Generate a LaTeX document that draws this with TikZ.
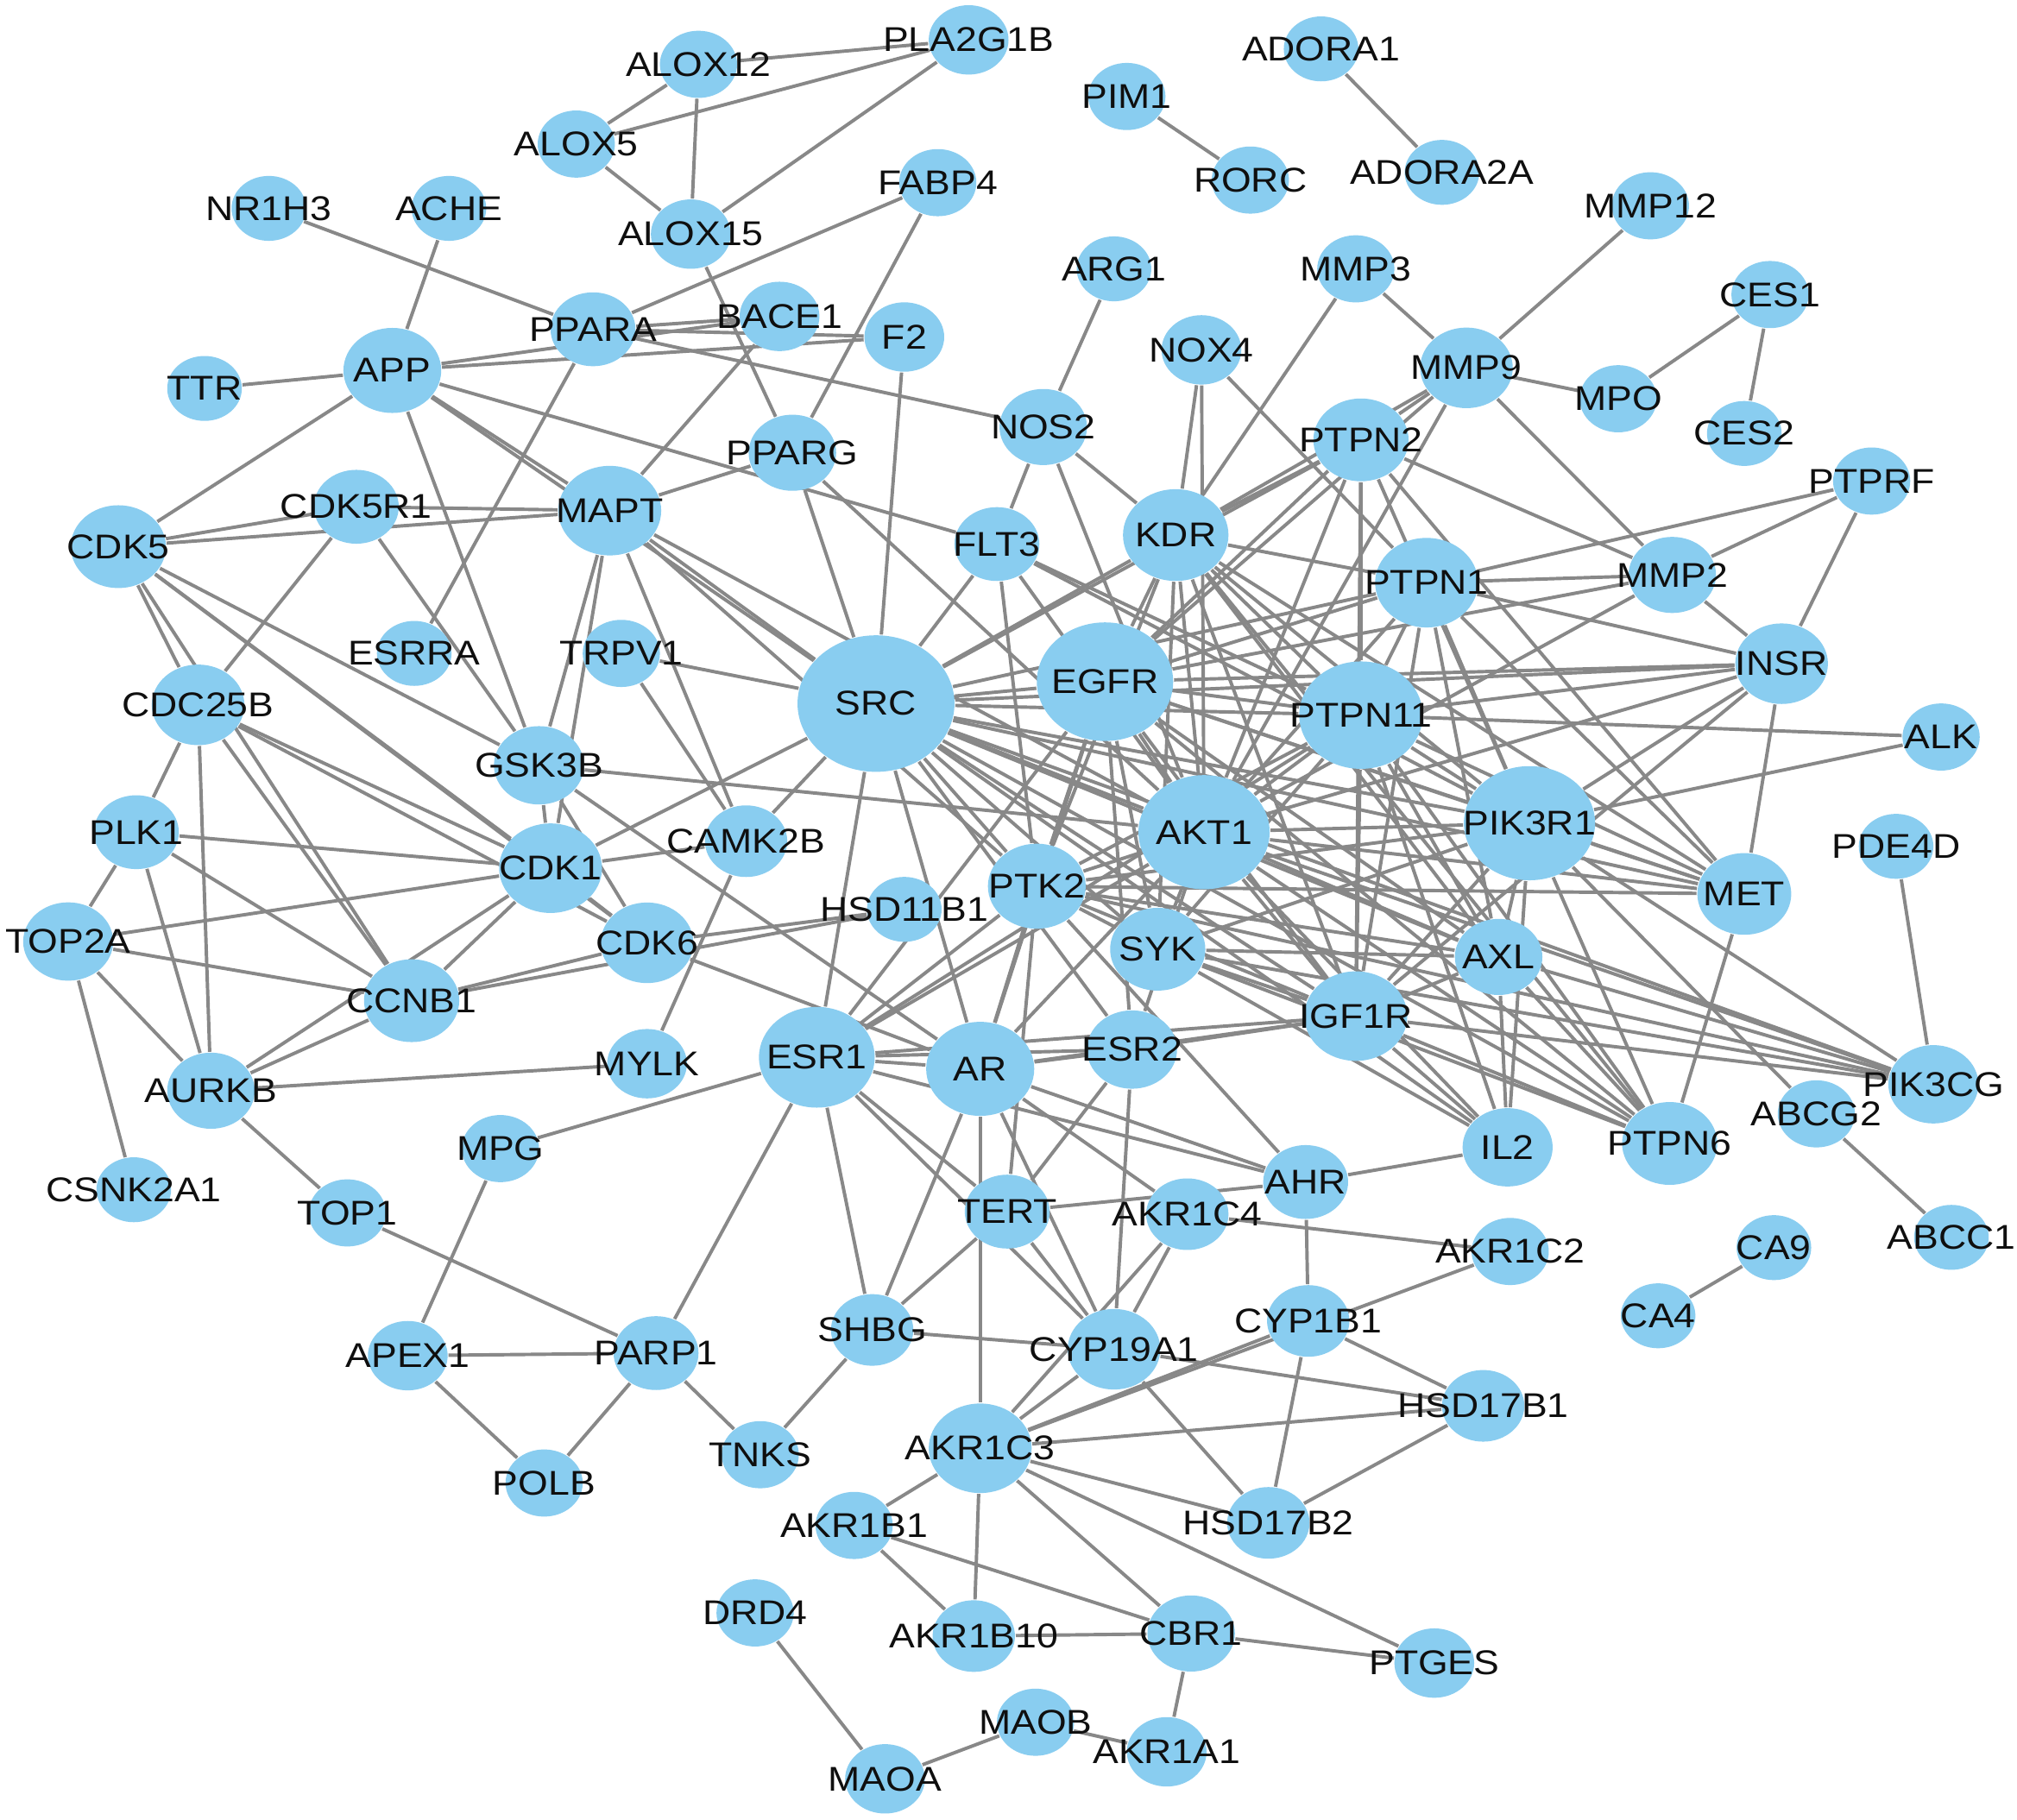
\documentclass[tikz,border=0pt]{standalone}
\usepackage{graphicx}
\usepackage{fontspec}
\setmainfont{Liberation Sans}
\usetikzlibrary{shapes.geometric}
\definecolor{nodeblue}{RGB}{137,205,240}
\definecolor{edgegray}{RGB}{136,136,136}
\definecolor{txt}{RGB}{15,15,15}
\pgfdeclarelayer{bg}
\pgfsetlayers{bg,main}
\tikzset{
  gene/.style={ellipse, fill=nodeblue, draw=none, inner sep=0pt},
  lbl/.style={font=\fontsize{7.6pt}{9pt}\selectfont, text=txt, inner sep=0pt},
  edge/.style={draw=edgegray, line width=0.75pt}
}
\newcommand\gn[4]{\node[gene, minimum width=#4*0.1mm, minimum height=#4*0.087mm,
  label={[lbl]center:\scalebox{1.12}[1]{#1}}] (#1) at (#2,#3) {};}
\begin{document}
\begin{tikzpicture}[x=0.1mm, y=-0.1mm]
\useasboundingbox (0,0) rectangle (1568,1415);
\begin{pgfonlayer}{bg}
\fill[white] (0,0) rectangle (1568,1415);
\end{pgfonlayer}
% nodes
\gn{ALOX12}{543}{50}{60}
\gn{PLA2G1B}{753}{31}{62}
\gn{ALOX5}{448}{112}{60}
\gn{ALOX15}{537}{182}{62}
\gn{PIM1}{876}{75}{60}
\gn{RORC}{972}{140}{60}
\gn{ADORA1}{1027}{38}{58}
\gn{ADORA2A}{1121}{134}{58}
\gn{MMP12}{1283}{160}{60}
\gn{NR1H3}{209}{162}{58}
\gn{ACHE}{349}{162}{58}
\gn{FABP4}{729}{142}{60}
\gn{ARG1}{866}{209}{58}
\gn{MMP3}{1054}{209}{60}
\gn{CES1}{1376}{229}{60}
\gn{CES2}{1356}{337}{58}
\gn{MPO}{1258}{310}{60}
\gn{MMP9}{1140}{286}{72}
\gn{NOX4}{934}{272}{62}
\gn{PPARA}{461}{256}{66}
\gn{BACE1}{606}{246}{62}
\gn{F2}{703}{262}{62}
\gn{APP}{305}{288}{76}
\gn{TTR}{159}{302}{58}
\gn{NOS2}{811}{332}{68}
\gn{PPARG}{616}{352}{68}
\gn{PTPN2}{1058}{342}{74}
\gn{PTPRF}{1455}{374}{60}
\gn{CDK5R1}{277}{394}{66}
\gn{MAPT}{474}{397}{80}
\gn{CDK5}{92}{425}{74}
\gn{FLT3}{775}{423}{66}
\gn{KDR}{914}{416}{82}
\gn{PTPN1}{1109}{453}{80}
\gn{MMP2}{1300}{447}{68}
\gn{ESRRA}{322}{508}{58}
\gn{TRPV1}{483}{508}{60}
\gn{SRC}{681}{547}{122}
\gn{EGFR}{859}{530}{106}
\gn{PTPN11}{1058}{556}{96}
\gn{INSR}{1385}{516}{72}
\gn{ALK}{1509}{573}{60}
\gn{CDC25B}{154}{548}{72}
\gn{GSK3B}{419}{595}{70}
\gn{AKT1}{936}{647}{102}
\gn{PIK3R1}{1189}{640}{102}
\gn{PLK1}{106}{647}{66}
\gn{PDE4D}{1474}{658}{58}
\gn{CAMK2B}{580}{654}{64}
\gn{CDK1}{428}{675}{80}
\gn{PTK2}{806}{689}{76}
\gn{MET}{1356}{695}{73}
\gn{HSD11B1}{703}{707}{58}
\gn{TOP2A}{53}{732}{70}
\gn{CDK6}{503}{733}{72}
\gn{SYK}{900}{738}{74}
\gn{AXL}{1165}{744}{68}
\gn{CCNB1}{320}{778}{74}
\gn{IGF1R}{1054}{790}{80}
\gn{MYLK}{503}{827}{62}
\gn{ESR1}{635}{822}{90}
\gn{AR}{762}{831}{84}
\gn{ESR2}{880}{816}{70}
\gn{PIK3CG}{1503}{843}{70}
\gn{AURKB}{164}{848}{68}
\gn{ABCG2}{1412}{866}{60}
\gn{IL2}{1172}{892}{70}
\gn{PTPN6}{1298}{889}{74}
\gn{MPG}{389}{893}{60}
\gn{CSNK2A1}{104}{925}{58}
\gn{TOP1}{270}{943}{60}
\gn{TERT}{783}{942}{66}
\gn{AKR1C4}{923}{944}{64}
\gn{AHR}{1015}{919}{66}
\gn{ABCC1}{1517}{962}{58}
\gn{CA9}{1379}{970}{58}
\gn{AKR1C2}{1174}{973}{60}
\gn{CA4}{1289}{1023}{58}
\gn{CYP1B1}{1017}{1027}{64}
\gn{APEX1}{317}{1054}{62}
\gn{PARP1}{510}{1052}{66}
\gn{SHBG}{678}{1034}{64}
\gn{CYP19A1}{866}{1049}{72}
\gn{HSD17B1}{1153}{1093}{64}
\gn{TNKS}{591}{1131}{60}
\gn{AKR1C3}{762}{1126}{80}
\gn{POLB}{423}{1153}{60}
\gn{HSD17B2}{986}{1184}{64}
\gn{AKR1B1}{664}{1186}{60}
\gn{DRD4}{587}{1254}{60}
\gn{AKR1B10}{757}{1272}{64}
\gn{CBR1}{926}{1270}{68}
\gn{PTGES}{1115}{1293}{62}
\gn{MAOB}{805}{1339}{60}
\gn{AKR1A1}{907}{1362}{62}
\gn{MAOA}{688}{1383}{62}
% edges
\begin{pgfonlayer}{bg}
\foreach \a/\b in {ALOX12/PLA2G1B, ALOX12/ALOX5, ALOX12/ALOX15, ALOX5/PLA2G1B, ALOX5/ALOX15,
 PLA2G1B/ALOX15, ALOX15/PPARG, FABP4/PPARA, FABP4/PPARG, PIM1/RORC, ADORA1/ADORA2A,
 MMP12/MMP9, MMP3/MMP9, MMP3/KDR, MMP9/MPO, MPO/CES1, CES1/CES2, NR1H3/PPARA, ACHE/APP,
 TTR/APP, APP/BACE1, APP/F2, PPARA/BACE1, PPARA/F2, PPARA/NOS2, PPARA/ESRRA, ARG1/NOS2,
 NOS2/KDR, NOS2/FLT3, NOS2/AKT1, NOX4/KDR, NOX4/AKT1, NOX4/PTPN1, BACE1/MAPT, F2/SRC,
 MAPT/PPARG, PPARG/SRC, PPARG/AKT1,
 APP/MAPT, APP/CDK5, APP/GSK3B, APP/SRC, APP/FLT3,
 CDK5/CDK5R1, CDK5/MAPT, CDK5R1/MAPT, CDK5R1/CDC25B, CDK5R1/GSK3B, CDK5/CDC25B, CDK5/CCNB1,
 CDK5/GSK3B, CDK5/CDK1, CDK5/CDK6,
 CDC25B/PLK1, CDC25B/AURKB, CDC25B/CCNB1, CDC25B/CDK1, CDC25B/CDK6,
 PLK1/TOP2A, PLK1/AURKB, PLK1/CDK1, PLK1/CCNB1,
 TOP2A/CDK1, TOP2A/CCNB1, TOP2A/AURKB, TOP2A/CSNK2A1,
 AURKB/CCNB1, AURKB/CDK1, AURKB/MYLK, AURKB/TOP1,
 CCNB1/CDK1, CCNB1/CDK6, CCNB1/HSD11B1,
 CDK1/GSK3B, CDK1/CDK6, CDK1/SRC, CDK1/CAMK2B, CDK1/MAPT,
 GSK3B/MAPT, GSK3B/CDK6, GSK3B/AKT1, GSK3B/AR,
 MAPT/SRC, MAPT/PTK2, MAPT/AKT1, MAPT/CAMK2B,
 TRPV1/SRC, TRPV1/CAMK2B, CAMK2B/SRC, CAMK2B/MYLK, CDK6/HSD11B1, CDK6/AR,
 MPG/ESR1, MPG/APEX1, TOP1/PARP1, APEX1/PARP1, APEX1/POLB, PARP1/POLB, PARP1/TNKS,
 PARP1/ESR1, TNKS/SHBG,
 SHBG/ESR1, SHBG/AR, SHBG/TERT, SHBG/CYP19A1,
 TERT/ESR1, TERT/ESR2, TERT/AHR, TERT/CYP19A1, TERT/PTK2,
 AKR1C4/AKR1C2, AKR1C4/CYP19A1, AKR1C4/AR,
 AHR/IL2, AHR/CYP1B1, AHR/ESR1, AHR/AR, AHR/PTK2,
 CYP19A1/ESR2, CYP19A1/ESR1, CYP19A1/AR, CYP19A1/AKR1C3, CYP19A1/HSD17B2, CYP19A1/HSD17B1,
 CYP1B1/AKR1C3, CYP1B1/HSD17B1, CYP1B1/HSD17B2,
 HSD17B1/AKR1C3, HSD17B1/HSD17B2, HSD17B2/AKR1C3,
 AKR1C3/AR, AKR1C3/AKR1B1, AKR1C3/AKR1B10, AKR1C3/CBR1, AKR1C3/PTGES, AKR1C3/AKR1C4, AKR1C3/AKR1C2,
 AKR1B1/AKR1B10, AKR1B1/CBR1, AKR1B10/CBR1, CBR1/PTGES, CBR1/AKR1A1, AKR1A1/MAOB,
 MAOB/MAOA, MAOA/DRD4, CA4/CA9, PDE4D/PIK3CG, ABCG2/ABCC1, ABCG2/PIK3R1,
 SRC/EGFR, SRC/AKT1, SRC/PTPN11, SRC/PIK3R1, SRC/PTPN1, SRC/PTPN2, SRC/KDR, SRC/PTK2,
 SRC/SYK, SRC/AXL, SRC/IGF1R, SRC/MET, SRC/INSR, SRC/PTPN6, SRC/FLT3, SRC/ESR1, SRC/AR,
 SRC/IL2, SRC/PIK3CG, SRC/ESR2,
 EGFR/AKT1, EGFR/PTPN11, EGFR/PIK3R1, EGFR/PTPN1, EGFR/PTPN2, EGFR/KDR, EGFR/PTK2, EGFR/SYK,
 EGFR/AXL, EGFR/IGF1R, EGFR/MET, EGFR/INSR, EGFR/PTPN6, EGFR/ESR1, EGFR/AR, EGFR/MMP2,
 EGFR/ESR2, EGFR/MMP9,
 AKT1/PTPN11, AKT1/PIK3R1, AKT1/PTPN1, AKT1/KDR, AKT1/PTK2, AKT1/SYK, AKT1/AXL, AKT1/IGF1R,
 AKT1/MET, AKT1/INSR, AKT1/IL2, AKT1/ESR1, AKT1/AR, AKT1/FLT3, AKT1/MMP9, AKT1/MMP2,
 AKT1/PIK3CG, AKT1/PTPN6, AKT1/ESR2, AKT1/PTPN2,
 PTPN11/PIK3R1, PTPN11/PTPN1, PTPN11/PTPN2, PTPN11/KDR, PTPN11/PTK2, PTPN11/SYK, PTPN11/AXL,
 PTPN11/IGF1R, PTPN11/MET, PTPN11/INSR, PTPN11/PTPN6, PTPN11/ALK, PTPN11/FLT3, PTPN11/IL2,
 PTPN11/ESR1,
 PIK3R1/PTPN1, PIK3R1/PTPN2, PIK3R1/KDR, PIK3R1/PTK2, PIK3R1/SYK, PIK3R1/AXL, PIK3R1/IGF1R,
 PIK3R1/MET, PIK3R1/INSR, PIK3R1/PTPN6, PIK3R1/ALK, PIK3R1/IL2, PIK3R1/PIK3CG, PIK3R1/FLT3,
 PTPN1/KDR, PTPN1/INSR, PTPN1/IGF1R, PTPN1/MET, PTPN1/PTPRF, PTPN1/MMP2, PTPN1/AXL,
 PTPN2/KDR, PTPN2/MMP9, PTPN2/MMP2, PTPN2/MET, PTPN2/IGF1R,
 KDR/MMP9, KDR/PTK2, KDR/SYK, KDR/IGF1R, KDR/AXL, KDR/MET, KDR/PTPN6,
 IGF1R/INSR, IGF1R/IL2, IGF1R/PTPN6, IGF1R/PIK3CG, IGF1R/AXL, IGF1R/ESR2, IGF1R/ESR1,
 IGF1R/AR, IGF1R/SYK,
 AXL/IL2, AXL/PTPN6, AXL/PIK3CG, AXL/SYK, AXL/PTK2,
 SYK/PTK2, SYK/PTPN6, SYK/IL2, SYK/PIK3CG,
 PTK2/ESR1, PTK2/AR, PTK2/MET, PTK2/IGF1R, PTK2/PIK3CG, PTK2/FLT3,
 ESR1/AR, ESR1/ESR2, AR/ESR2,
 INSR/MET, INSR/MMP2, INSR/PTPRF, MMP2/PTPRF, MMP9/MMP2, MET/PTPN6}
 {\draw[edge] (\a) -- (\b);}
\end{pgfonlayer}
\end{tikzpicture}
\end{document}
